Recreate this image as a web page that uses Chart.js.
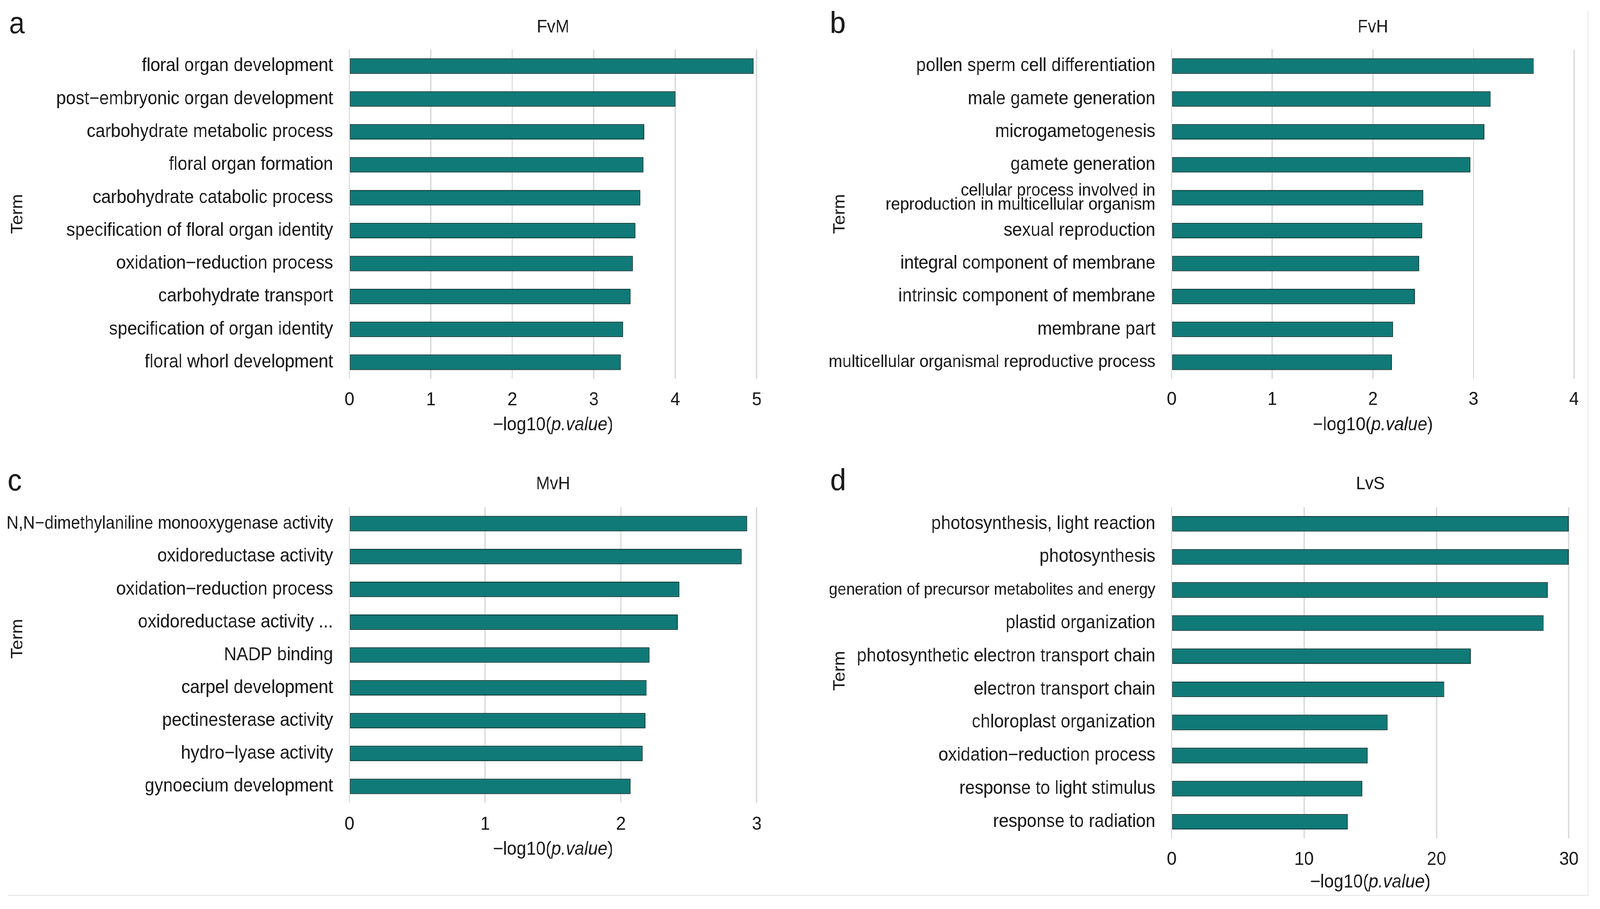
<!DOCTYPE html>
<html>
<head>
<meta charset="utf-8">
<script src="https://cdn.jsdelivr.net/npm/chart.js@4.4.1/dist/chart.umd.min.js"></script>
<style>
  html, body { margin: 0; background: #fff; overflow: hidden; }
  #page { position: relative; width: 4419px; height: 2328px; overflow: hidden; background: #fff; transform-origin: 0 0; }
  #page canvas { position: absolute; }
  .frame { position: absolute; background: #e2e2e2; }
</style>
</head>
<body>
<div id="page">
  <div class="frame" style="left:22px;top:2292px;width:4366px;height:2px"></div>
  <div class="frame" style="left:4385px;top:28px;width:2px;height:2266px"></div>
</div>
<script>
const FONT = '"Liberation Sans", Arial, Helvetica, sans-serif';
const BAR_FILL = '#0f7a77';
const BAR_EDGE = '#0b3d3b';
const GRID = '#d9d9d9';
const INK = '#1a1a1a';

const panelLetters = ['a', 'b', 'c', 'd'];
const comparisons = ['FvM', 'FvH', 'MvH', 'LvS'];
const xMax = [5, 4, 3, 30];
const xStep = [1, 1, 1, 10];
const xTitleParts = [['\u2212log10(', 'normal'], ['p.value', 'italic'], [')', 'normal']];
const yTitle = 'Term';

const termsFvM = [
  'floral organ development',
  'post\u2212embryonic organ development',
  'carbohydrate metabolic process',
  'floral organ formation',
  'carbohydrate catabolic process',
  'specification of floral organ identity',
  'oxidation\u2212reduction process',
  'carbohydrate transport',
  'specification of organ identity',
  'floral whorl development',
];
const valuesFvM = [4.96, 4.00, 3.62, 3.61, 3.57, 3.51, 3.48, 3.45, 3.36, 3.33];

const termsFvH = [
  'pollen sperm cell differentiation',
  'male gamete generation',
  'microgametogenesis',
  'gamete generation',
  'cellular process involved in\nreproduction in multicellular organism',
  'sexual reproduction',
  'integral component of membrane',
  'intrinsic component of membrane',
  'membrane part',
  'multicellular organismal reproductive process',
];
const valuesFvH = [3.60, 3.17, 3.11, 2.97, 2.50, 2.49, 2.46, 2.42, 2.20, 2.19];

const termsMvH = [
  'N,N\u2212dimethylaniline monooxygenase activity',
  'oxidoreductase activity',
  'oxidation\u2212reduction process',
  'oxidoreductase activity ...',
  'NADP binding',
  'carpel development',
  'pectinesterase activity',
  'hydro\u2212lyase activity',
  'gynoecium development',
];
const valuesMvH = [2.93, 2.89, 2.43, 2.42, 2.21, 2.19, 2.18, 2.16, 2.07];

const termsLvS = [
  'photosynthesis, light reaction',
  'photosynthesis',
  'generation of precursor metabolites and energy',
  'plastid organization',
  'photosynthetic electron transport chain',
  'electron transport chain',
  'chloroplast organization',
  'oxidation\u2212reduction process',
  'response to light stimulus',
  'response to radiation',
];
const valuesLvS = [30.0, 30.0, 28.4, 28.1, 22.6, 20.6, 16.3, 14.8, 14.4, 13.3];

const terms = [termsFvM, termsFvH, termsMvH, termsLvS];
const values = [valuesFvM, valuesFvH, valuesMvH, valuesLvS];

// where each panel sits on the 4419 x 2328 page, in px
// box: canvas [left, top, width, height]; plot: chart area [left, right, top, bottom]
const layouts = [
  {box: [0, 0, 2200, 1160], plot: [965, 2090, 127, 970], titleY: 70, tickY: 1025, xTitleY: 1089, term: [49, 548], letter: [25, 85]},
  {box: [2200, 0, 2186, 1160], plot: [3236, 4359, 127, 970], titleY: 70, tickY: 1024, xTitleY: 1089, term: [2320, 548], letter: [2292, 85]},
  {box: [0, 1160, 2200, 1133], plot: [965, 2090, 1299, 2056], titleY: 1240, tickY: 2112, xTitleY: 2176, term: [49, 1636], letter: [21, 1256]},
  {box: [2200, 1160, 2186, 1133], plot: [3236, 4359, 1299, 2147], titleY: 1240, tickY: 2202, xTitleY: 2260, term: [2320, 1718], letter: [2293, 1256]},
];

const LABEL_SIZE = 48;
const LABEL_MAX = 902; // long terms are squeezed to this width

const scratch = document.createElement('canvas').getContext('2d');
function textWidth(text, size) {
  scratch.font = `${size}px ${FONT}`;
  return scratch.measureText(text).width;
}

// long term labels get a smaller size so they fit the panel
function labelFont(c) {
  const label = c.tick ? c.tick.label : '';
  if (Array.isArray(label)) {
    return {family: FONT, size: 45, lineHeight: 0.79};
  }
  const w = label ? textWidth(label, LABEL_SIZE) : 0;
  const size = w > LABEL_MAX ? LABEL_SIZE * LABEL_MAX / w : LABEL_SIZE;
  return {family: FONT, size, lineHeight: 1.2};
}

// panel letter, rotated "Term" and the partly italic x axis title
const panelText = {
  id: 'panelText',
  afterDraw(chart, args, o) {
    const {ctx, chartArea} = chart;
    ctx.save();
    ctx.fillStyle = INK;

    ctx.font = `78px ${FONT}`;
    ctx.textAlign = 'left';
    ctx.textBaseline = 'alphabetic';
    ctx.fillText(o.letter, o.letterX, o.letterY);

    ctx.save();
    ctx.font = `46px ${FONT}`;
    ctx.translate(o.termX, o.termY);
    ctx.rotate(-Math.PI / 2);
    ctx.textAlign = 'center';
    ctx.textBaseline = 'middle';
    ctx.fillText(yTitle, 0, 0);
    ctx.restore();

    ctx.textBaseline = 'middle';
    ctx.textAlign = 'left';
    const fonts = xTitleParts.map(([, style]) => `${style} 48px ${FONT}`);
    let total = 0;
    xTitleParts.forEach(([text], k) => {
      ctx.font = fonts[k];
      total += ctx.measureText(text).width;
    });
    let x = (chartArea.left + chartArea.right) / 2 - total / 2;
    xTitleParts.forEach(([text], k) => {
      ctx.font = fonts[k];
      ctx.fillText(text, x, o.xTitleY);
      x += ctx.measureText(text).width;
    });
    ctx.restore();
  }
};

const page = document.getElementById('page');
// the window can be narrower than the 4419 px figure: squeeze it across to fit
const sx = Math.min(1, window.innerWidth / 4419);
page.style.transform = `scale(${sx}, 1)`;

layouts.forEach((L, i) => {
  const [bx, by, bw, bh] = L.box;
  const [pl, pr, pt, pb] = L.plot;
  const canvas = document.createElement('canvas');
  canvas.width = bw;
  canvas.height = bh;
  canvas.style.left = bx + 'px';
  canvas.style.top = by + 'px';
  canvas.style.width = bw + 'px';
  canvas.style.height = bh + 'px';
  page.appendChild(canvas);

  new Chart(canvas, {
    type: 'bar',
    data: {
      labels: terms[i].map(t => t.includes('\n') ? t.split('\n') : t),
      datasets: [{
        data: values[i],
        backgroundColor: BAR_FILL,
        borderColor: BAR_EDGE,
        borderWidth: 2.5,
        borderSkipped: false,
        barPercentage: 0.47,
        categoryPercentage: 1,
      }]
    },
    options: {
      indexAxis: 'y',
      responsive: false,
      animation: false,
      devicePixelRatio: 1,
      layout: {padding: {left: 0, top: 0, bottom: 0, right: bx + bw - pr}},
      plugins: {
        legend: {display: false},
        tooltip: {enabled: false},
        title: {
          display: true,
          text: comparisons[i],
          fullSize: false,
          color: INK,
          font: {family: FONT, size: 46, weight: 'normal', lineHeight: 1.2},
          padding: {top: L.titleY - by - 27.6, bottom: pt - L.titleY - 27.6},
        },
        panelText: {
          letter: panelLetters[i],
          letterX: L.letter[0] - bx,
          letterY: L.letter[1] - by,
          termX: L.term[0] - bx,
          termY: L.term[1] - by,
          xTitleY: L.xTitleY - by,
        },
      },
      scales: {
        x: {
          min: 0,
          max: xMax[i],
          grid: {color: GRID, lineWidth: 3.5, drawTicks: false},
          border: {display: false},
          ticks: {
            stepSize: xStep[i],
            padding: L.tickY - pb - 28.8,
            color: INK,
            font: {family: FONT, size: 48, lineHeight: 1.2},
          },
          afterFit: s => { s.height = by + bh - pb; },
        },
        y: {
          grid: {display: false},
          border: {display: false},
          ticks: {autoSkip: false, padding: 37, color: INK, font: labelFont},
          afterFit: s => { s.width = pl - bx; },
        },
      },
    },
    plugins: [panelText],
  });
});
</script>
</body>
</html>
